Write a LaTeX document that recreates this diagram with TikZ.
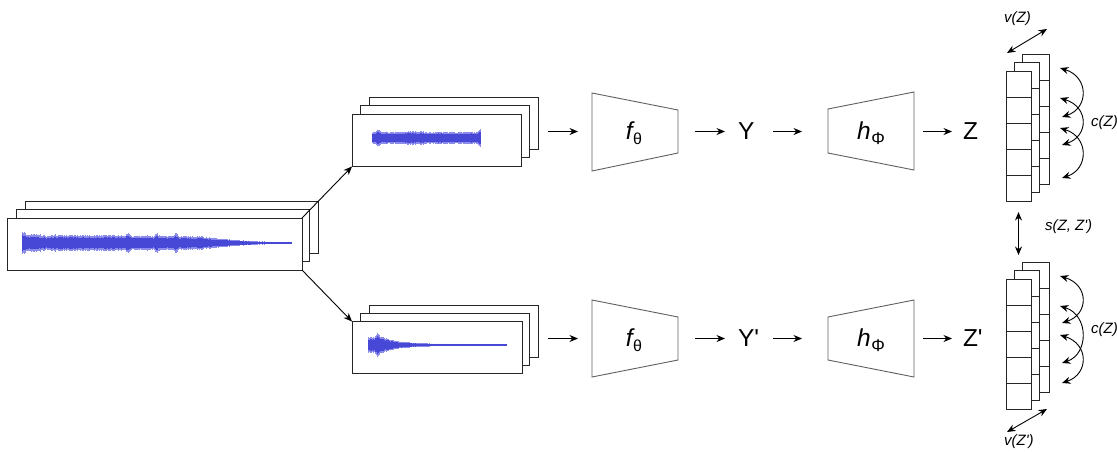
\documentclass[tikz,border=0pt]{standalone}
\usepackage{fontspec}
\setmainfont{Liberation Sans}[Ligatures=TeXOff]
\usetikzlibrary{arrows.meta,calc}
\definecolor{wavedark}{RGB}{72,72,214}
\definecolor{wavelight}{RGB}{140,140,234}
\definecolor{edgegray}{RGB}{95,95,95}

% a noisy audio envelope: #1 start x, #2 end x, #3 centre y, #4 envelope in \x
\newcommand\wavestrip[4]{%
  \foreach \x in {#1,#1.7,...,#2}{%
    \pgfmathsetmacro\wa{(#4)*(0.8+0.2*rnd)}%
    \draw[wavelight, line width=0.9pt] (\x,#3-\wa) -- (\x,#3+\wa);
    \draw[wavedark, line width=0.9pt] (\x,#3-0.72*\wa) -- (\x,#3+0.72*\wa);
  }}

% an embedding vector with two copies behind it; #1,#2 top-left of the front column, #3 name prefix
\newcommand\vecstack[3]{%
  \foreach \i in {0,...,4}{%
    \node[cell, minimum width=27, anchor=north west] (#3b\i) at (#1+16,#2-17+26*\i) {};}
  \foreach \i in {0,...,4}{%
    \node[cell, minimum width=25, anchor=north west] (#3m\i) at (#1+8,#2-8.5+26*\i) {};}
  \foreach \i in {0,...,4}{%
    \node[cell, minimum width=25, anchor=north west] (#3f\i) at (#1,#2+26*\i) {};}
}

\begin{document}
\begin{tikzpicture}[x=1pt,y=-1pt,
  tip/.tip={Stealth[length=8.5pt,width=7pt]},
  arr/.style={-tip, line width=0.9pt},
  darr/.style={tip-tip, line width=0.9pt},
  sheet/.style={draw=black!85, fill=white, line width=0.9pt, inner sep=0pt, outer sep=0pt,
                minimum height=52, anchor=north west},
  cell/.style={draw=black!85, fill=white, line width=0.9pt, inner sep=0pt, outer sep=0pt,
               minimum height=26},
  trap/.style={draw=edgegray, line width=0.9pt},
  slot/.style={inner sep=0pt, outer sep=0pt, minimum width=86, minimum height=40},
  big/.style={font=\fontsize{24.5}{28}\selectfont, inner sep=0pt, outer sep=0pt},
  small/.style={font=\itshape\fontsize{15}{17}\selectfont, inner sep=0pt, anchor=west},
]
\useasboundingbox (0,0) rectangle (1117,451);
\pgfmathsetseed{11}

% ---- full recording ----
\node[sheet, minimum width=293] (in3) at (25,201) {};
\node[sheet, minimum width=293] (in2) at (16,209.5) {};
\node[sheet, minimum width=295] (in1) at (7,218) {};
\wavestrip{22}{292}{243}{1 + (8.2-2.2*(min(\x,200)-22)/178)*(1-max(0,\x-200)/92)*(1-max(0,\x-200)/92)
  + 3*max(0,1-abs(\x-24)/3) - 2*max(0,1-abs(\x-47)/3)
  + 3.5*max(0,1-abs(\x-128)/3) + 3.5*max(0,1-abs(\x-157)/3) + 3.5*max(0,1-abs(\x-176)/3)}

% ---- first crop ----
\node[sheet, minimum width=169] (a3) at (369,97) {};
\node[sheet, minimum width=169] (a2) at (360.5,105.5) {};
\node[sheet, minimum width=169] (a1) at (352,114.5) {};
\wavestrip{372}{481}{138}{6.4 + 2.5*max(0,1-abs(\x-378)/4) + 3.5*max(0,1-abs(\x-480)/2.5)
  + 0.8*max(0,1-abs(\x-412)/14) - 1.5*max(0,1-abs(\x-372)/2)}

% ---- second crop ----
\node[sheet, minimum width=169] (b3) at (369,305) {};
\node[sheet, minimum width=169] (b2) at (360.5,313) {};
\node[sheet, minimum width=170] (b1) at (352,321.5) {};
\wavestrip{368}{507}{345}{1.1 + 7.5*exp(-max(0,\x-382)/18) + 5*max(0,1-abs(\x-378)/3)}

% ---- branches ----
\draw[arr] (in1.north east) -- (a1.south west);
\draw[arr] (in1.south east) -- (b1.north west);

% ---- encoders and projectors ----
\draw[trap] (592,93) -- (678,110) -- (678,153) -- (592,171) -- cycle;
\draw[trap] (828,109) -- (914,92) -- (914,170) -- (828,153) -- cycle;
\draw[trap] (592,300) -- (678,317) -- (678,360) -- (592,377) -- cycle;
\draw[trap] (828,317) -- (914,300) -- (914,377) -- (828,360) -- cycle;

\node[slot] (f1) at (635,131.5) {};
\node[slot] (h1) at (871,131.5) {};
\node[slot] (f2) at (635,338.5) {};
\node[slot] (h2) at (871,338.5) {};

\node[big] at (634,133) {\itshape f\upshape\kern0.5pt\raisebox{-4.5pt}{\fontsize{16}{16}\selectfont θ}};
\node[big] at (871,133) {\itshape h\upshape\kern0.5pt\raisebox{-4.5pt}{\fontsize{17}{17}\selectfont Φ}};
\node[big] at (634,340) {\itshape f\upshape\kern0.5pt\raisebox{-4.5pt}{\fontsize{16}{16}\selectfont θ}};
\node[big] at (871,340) {\itshape h\upshape\kern0.5pt\raisebox{-4.5pt}{\fontsize{17}{17}\selectfont Φ}};

\node[big, anchor=west] (y1) at (738,131.5) {Y};
\node[big, anchor=west] (z1) at (963,131.5) {Z};
\node[big, anchor=west] (y2) at (738,338.5) {Y'};
\node[big, anchor=west] (z2) at (963,338.5) {Z'};

\draw[arr, shorten <=27pt, shorten >=14pt] (a1.east |- f1.west) -- (f1.west);
\draw[arr, shorten <=17pt, shorten >=13pt] (f1.east) -- (y1.west);
\draw[arr, shorten <=19pt, shorten >=26pt] (y1.east) -- (h1.west);
\draw[arr, shorten <=9pt, shorten >=11pt] (h1.east) -- (z1.west);

\draw[arr, shorten <=26pt, shorten >=14pt] (b1.east |- f2.west) -- (f2.west);
\draw[arr, shorten <=17pt, shorten >=13pt] (f2.east) -- (y2.west);
\draw[arr, shorten <=14pt, shorten >=26pt] (y2.east) -- (h2.west);
\draw[arr, shorten <=9pt, shorten >=11pt] (h2.east) -- (z2.west);

% ---- embedding vectors ----
\vecstack{1006}{71}{p}
\vecstack{1006}{279}{q}

% variance terms
\coordinate (vp1) at (1007,53);  \coordinate (vp2) at (1047,29);
\draw[darr] (vp1) -- (vp2);
\node[small] (vz) at (1004,19) {v(Z)};
\coordinate (vq1) at (1007,432); \coordinate (vq2) at (1047,409);
\draw[darr] (vq1) -- (vq2);
\node[small] (vzp) at (1004,442) {v(Z')};

% similarity term
\draw[darr, shorten <=11pt, shorten >=7pt] (pf4.south) -- (qb0.north -| pf4.south);
\node[small] (sz) at (1045,227) {s(Z, Z')};

% covariance terms
\foreach \s/\e [count=\k] in {68/117, 98/145, 128/178}{
  \coordinate (cp\k a) at (1060,\s); \coordinate (cp\k b) at (1062,\e);
  \draw[darr] (cp\k a) .. controls (1089,\s+9) and (1089,\e-9) .. (cp\k b);
}
\node[small] (cz1) at (1091,123) {c(Z)};
\foreach \s/\e [count=\k] in {276/323, 306/363, 335/383}{
  \coordinate (cq\k a) at (1060,\s); \coordinate (cq\k b) at (1062,\e);
  \draw[darr] (cq\k a) .. controls (1089,\s+9) and (1089,\e-9) .. (cq\k b);
}
\node[small] (cz2) at (1091,330) {c(Z)};
\end{tikzpicture}
\end{document}
